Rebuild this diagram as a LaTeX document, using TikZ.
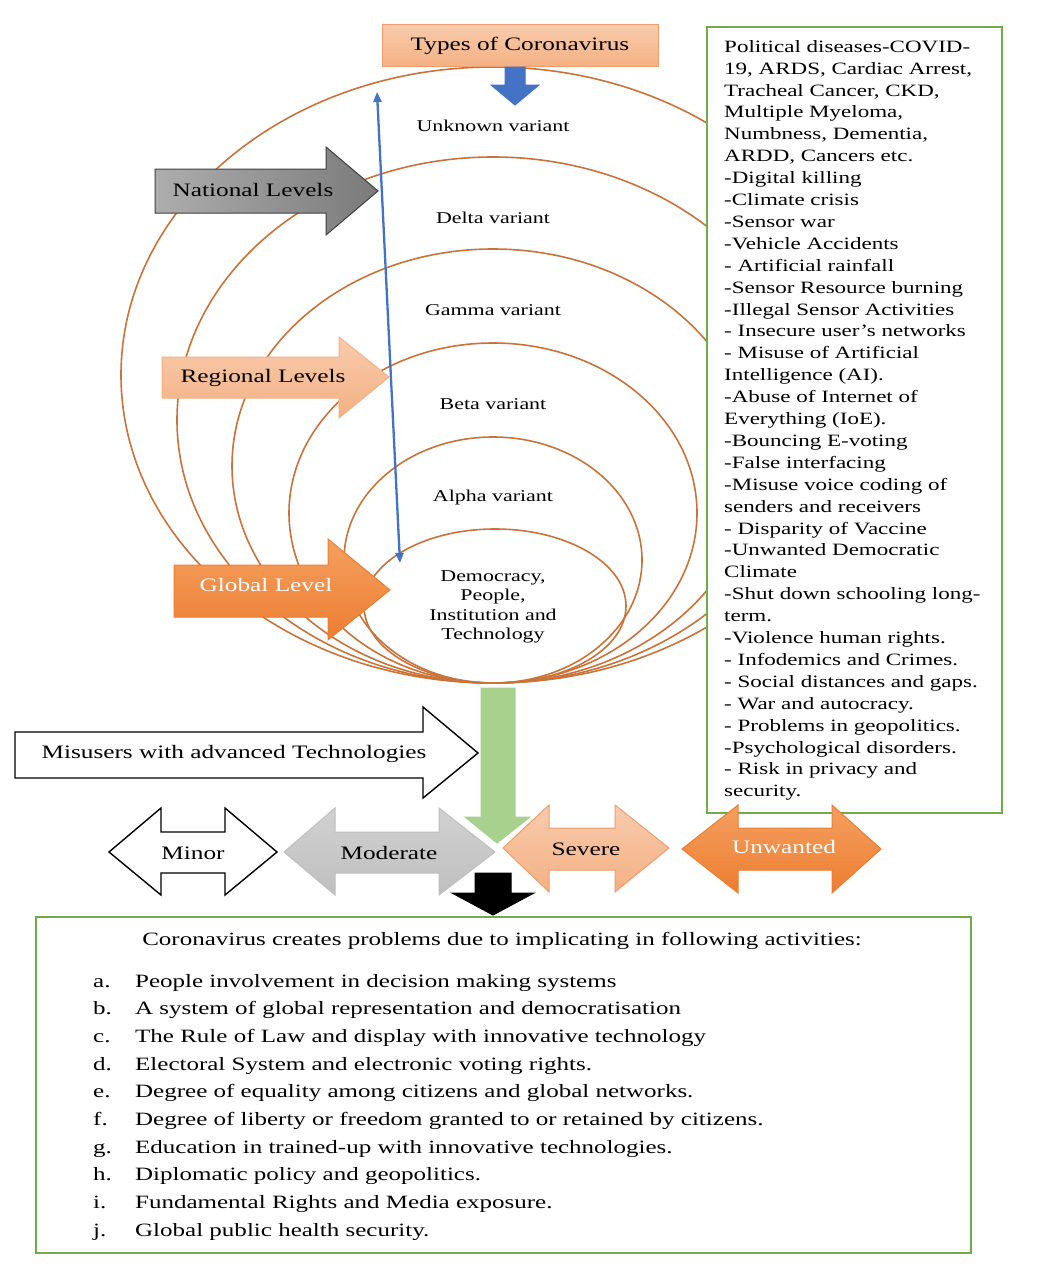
\documentclass[tikz,border=0pt]{standalone}
\usepackage{fontspec}
\setmainfont[FakeStretch=1.33]{Liberation Serif}
\usetikzlibrary{arrows.meta}
\definecolor{ell}{HTML}{C9733A}
\definecolor{grn}{HTML}{70AD47}
\definecolor{lgrn}{HTML}{A9D18E}
\definecolor{salmon}{HTML}{F4B183}
\definecolor{lsalmon}{HTML}{F8CBAD}
\definecolor{dsalmon}{HTML}{F19C6B}
\definecolor{orng}{HTML}{ED7D31}
\definecolor{lorng}{HTML}{F4A060}
\definecolor{blu}{HTML}{4472C4}
\definecolor{gry}{HTML}{BFBFBF}
\begin{document}
\begin{tikzpicture}[x=1pt,y=-1pt,
  ring/.style={draw=ell, line width=1.6pt},
  lbl/.style={font=\fontsize{19}{22}\selectfont, inner sep=0pt},
  vtext/.style={font=\fontsize{16.5}{19.3}\selectfont, inner sep=0pt, align=center},
  gbox/.style={draw=grn, line width=2pt, fill=white, inner sep=0pt},
  blockarrow/.style={line join=miter, line width=1pt},
  natfill/.style={blockarrow, draw=black!75, left color=black!32, right color=black!52},
  regfill/.style={blockarrow, draw=salmon, top color=lsalmon, bottom color=salmon},
  glofill/.style={blockarrow, draw=orng, top color=lorng, bottom color=orng},
  whitefill/.style={blockarrow, draw=black, line width=1.4pt, fill=white},
  modfill/.style={blockarrow, draw=gry, top color=black!18, bottom color=gry},
  sevfill/.style={blockarrow, draw=dsalmon, top color=lsalmon, bottom color=salmon},
  unwfill/.style={blockarrow, draw=orng, top color=lorng, bottom color=orng},
  grnfill/.style={blockarrow, draw=lgrn, fill=lgrn},
  blufill/.style={blockarrow, draw=blu, fill=blu},
  blkfill/.style={blockarrow, draw=black, fill=black}
]
\useasboundingbox[fill=white] (0,0) rectangle (1045,1272);

% nested rings
\draw[ring] (493,375) ellipse [x radius=372pt, y radius=308pt];
\draw[ring] (493,420) ellipse [x radius=316pt, y radius=263pt];
\draw[ring] (493,466) ellipse [x radius=261pt, y radius=217pt];
\draw[ring] (493,513) ellipse [x radius=204pt, y radius=170pt];
\draw[ring] (493,560) ellipse [x radius=149pt, y radius=123pt];
\draw[ring] (495,606) ellipse [x radius=131pt, y radius=77pt];

% variant texts
\node[vtext] (unknown) at (493,126) {Unknown variant};
\node[vtext] (delta) at (493,218) {Delta variant};
\node[vtext] (gamma) at (493,310) {Gamma variant};
\node[vtext] (beta) at (493,404) {Beta variant};
\node[vtext] (alpha) at (493,498) {Alpha variant};
\node[vtext] (demo) at (493,607) {Democracy,\\People,\\Institution and\\Technology};

% title box and blue arrow
\node[draw=dsalmon, line width=1pt, top color=lsalmon, bottom color=salmon,
      minimum width=276pt, minimum height=42pt, inner sep=0pt, anchor=north west]
      (types) at (382,24) {};
\node[lbl] (typestxt) at (520,46) {Types of Coronavirus};
\path[blufill] (505,67) -- (525,67) -- (525,85) -- (539,85) -- (515,105) -- (491,85) -- (505,85) -- cycle;

% level arrows
\path[natfill] (155,169) -- (326,169) -- (326,147) -- (378,191) -- (326,235) -- (326,213) -- (155,213) -- cycle;
\node[lbl] (national) at (253,190) {National Levels};
\path[regfill] (162,357) -- (339,357) -- (339,337) -- (389,377) -- (339,418) -- (339,398) -- (162,398) -- cycle;
\node[lbl] (regional) at (263,378) {Regional Levels};
\path[glofill] (174,565) -- (328,565) -- (328,539) -- (390,590) -- (328,640) -- (328,617) -- (174,617) -- cycle;
\node[lbl, text=white] (global) at (266,585) {Global Level};

% blue double arrow
\coordinate (btop) at (377,92);
\coordinate (bbot) at (400,563);
\draw[blu, line width=2.3pt, {Triangle[length=10pt,width=8pt]}-{Triangle[length=10pt,width=8pt]}] (btop) -- (bbot);

% right list box
\node[gbox, minimum width=295pt, minimum height=786pt, anchor=north west] (rbox) at (706,26) {};
\node[inner sep=0pt, anchor=north west, align=left, font=\fontsize{17.3}{21.9}\selectfont] (rtext) at (724,40) {%
Political diseases-COVID-\\
19, ARDS, Cardiac Arrest,\\
Tracheal Cancer, CKD,\\
Multiple Myeloma,\\
Numbness, Dementia,\\
ARDD, Cancers etc.\\
-Digital killing\\
-Climate crisis\\
-Sensor war\\
-Vehicle Accidents\\
- Artificial rainfall\\
-Sensor Resource burning\\
-Illegal Sensor Activities\\
- Insecure user’s networks\\
- Misuse of Artificial\\
Intelligence (AI).\\
-Abuse of Internet of\\
Everything (IoE).\\
-Bouncing E-voting\\
-False interfacing\\
-Misuse voice coding of\\
senders and receivers\\
- Disparity of Vaccine\\
-Unwanted Democratic\\
Climate\\
-Shut down schooling long-\\
term.\\
-Violence human rights.\\
- Infodemics and Crimes.\\
- Social distances and gaps.\\
- War and autocracy.\\
- Problems in geopolitics.\\
-Psychological disorders.\\
- Risk in privacy and\\
security.};

% misusers arrow and green arrow
\path[whitefill] (15,732) -- (423,732) -- (423,707) -- (478,753) -- (423,798) -- (423,778) -- (15,778) -- cycle;
\node[lbl] (misusers) at (234,754) {Misusers with advanced Technologies};
\path[grnfill] (481,688) -- (515,688) -- (515,817) -- (530,817) -- (497,843) -- (465,817) -- (481,817) -- cycle;

% severity double arrows
\path[whitefill] (109,852) -- (161,808) -- (161,832) -- (225,832) -- (225,808) -- (277,852) -- (225,895) -- (225,873) -- (161,873) -- (161,895) -- cycle;
\node[lbl] (minor) at (193,853) {Minor};
\path[modfill] (284,852) -- (335,808) -- (335,832) -- (439,832) -- (439,808) -- (495,852) -- (439,895) -- (439,873) -- (335,873) -- (335,895) -- cycle;
\node[lbl] (moderate) at (389,853) {Moderate};
\path[sevfill] (503,848) -- (549,805) -- (549,828) -- (615,828) -- (615,805) -- (669,848) -- (615,892) -- (615,870) -- (549,870) -- (549,892) -- cycle;
\node[lbl] (severe) at (586,849) {Severe};
\path[unwfill] (682,849) -- (738,805) -- (738,828) -- (832,828) -- (832,805) -- (881,849) -- (832,893) -- (832,870) -- (738,870) -- (738,893) -- cycle;
\node[lbl, text=white] (unwanted) at (784,847) {Unwanted};

% black arrow
\path[blkfill] (475,873) -- (511,873) -- (511,893) -- (534,893) -- (493,915) -- (452,893) -- (475,893) -- cycle;

% bottom box
\node[gbox, minimum width=935pt, minimum height=336pt, anchor=north west] (bbox) at (35,916) {};
\node[inner sep=0pt, anchor=base, font=\fontsize{18.8}{22}\selectfont] (heading) at (502,945)
  {Coronavirus creates problems due to implicating in following activities:};
\foreach \l/\t [count=\i from 0] in {
  a./People involvement in decision making systems,
  b./A system of global representation and democratisation,
  c./The Rule of Law and display with innovative technology,
  d./Electoral System and electronic voting rights.,
  e./Degree of equality among citizens and global networks.,
  f./Degree of liberty or freedom granted to or retained by citizens.,
  g./Education in trained-up with innovative technologies.,
  h./Diplomatic policy and geopolitics.,
  i./Fundamental Rights and Media exposure.,
  j./Global public health security.}
  \node[inner sep=0pt, anchor=base west, font=\fontsize{18.8}{22}\selectfont] (item\i) at (93,{987+27.7*\i}) {\makebox[42pt][l]{\l}\t};
\end{tikzpicture}
\end{document}
